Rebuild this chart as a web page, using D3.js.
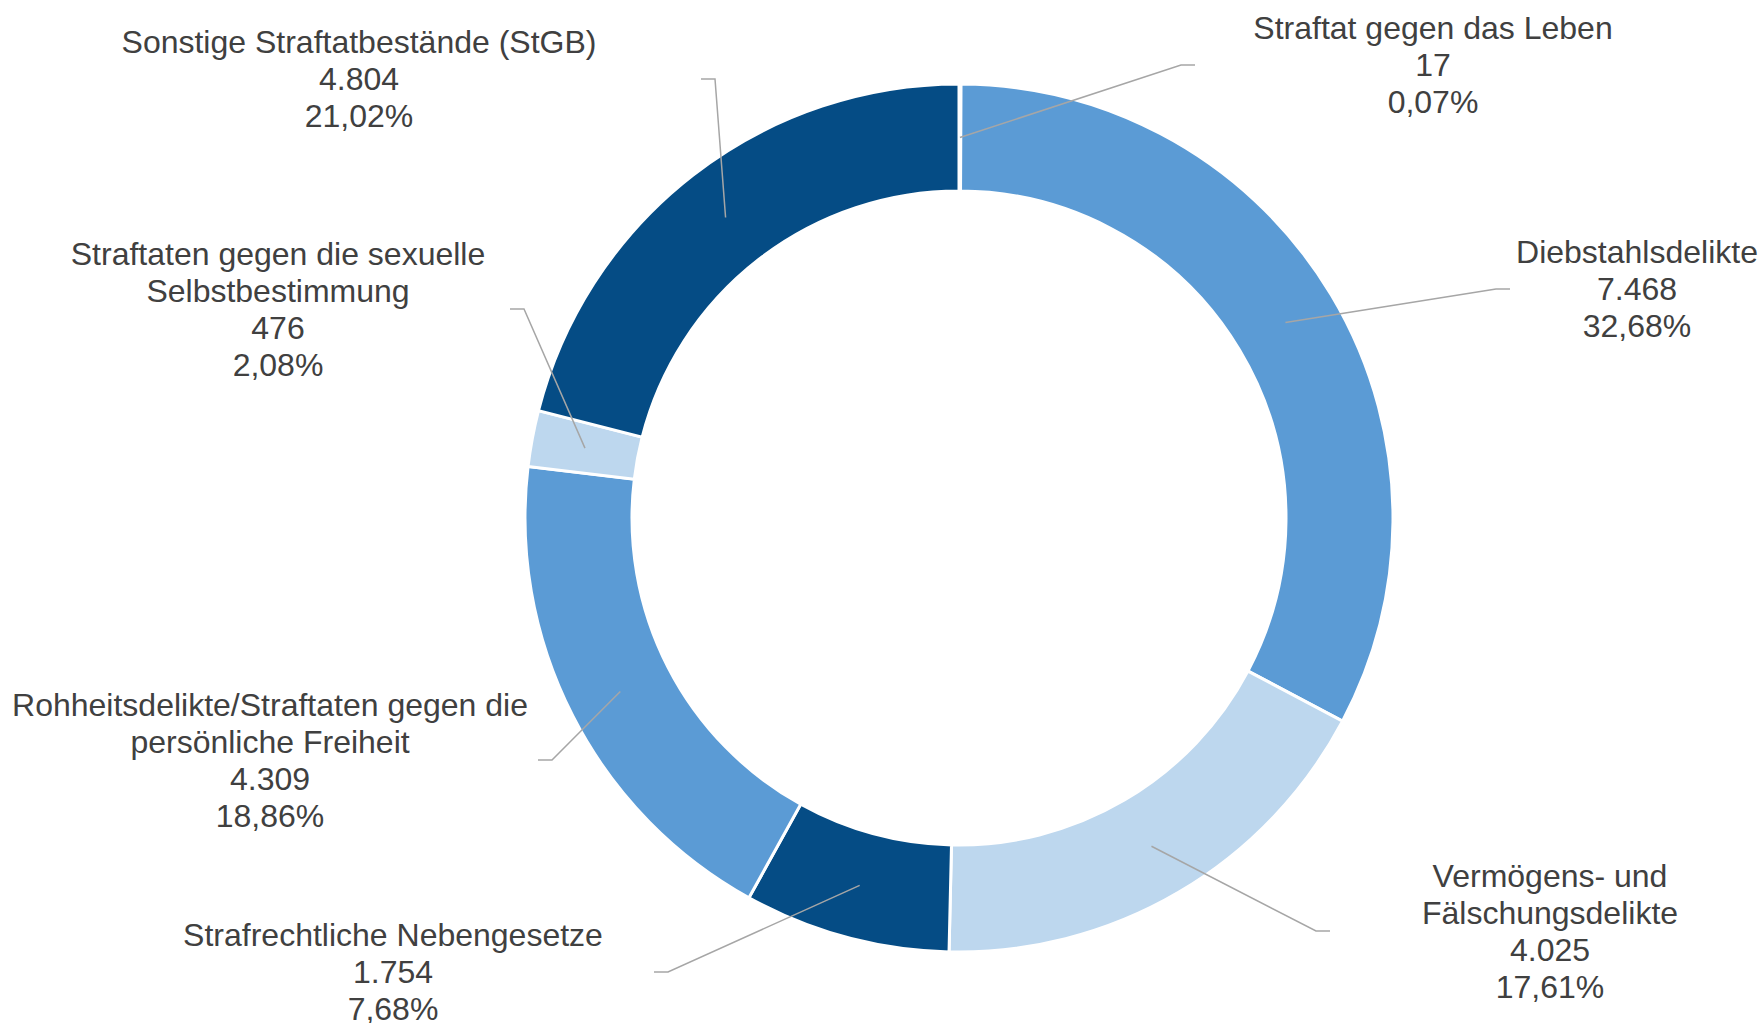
<!DOCTYPE html>
<html>
<head>
<meta charset="utf-8">
<script src="https://cdn.jsdelivr.net/npm/d3@7"></script>
<style>
  body { margin: 0; background: #fff; }
  text { font-family: "Liberation Sans", Arial, sans-serif; fill: #404040; }
</style>
</head>
<body>
<div id="chart"></div>
<script>
var width = 1764;
var height = 1023;

// data
var categories = [
    ["Straftat gegen das Leben"],
    ["Diebstahlsdelikte"],
    ["Vermögens- und", "Fälschungsdelikte"],
    ["Strafrechtliche Nebengesetze"],
    ["Rohheitsdelikte/Straftaten gegen die", "persönliche Freiheit"],
    ["Straftaten gegen die sexuelle", "Selbstbestimmung"],
    ["Sonstige Straftatbestände (StGB)"]
];
var values = [17, 7468, 4025, 1754, 4309, 476, 4804];
var colors = ["#054C85", "#5B9BD5", "#BDD7EE", "#054C85", "#5B9BD5", "#BDD7EE", "#054C85"];

// label layout (hand placed like in the original)
var labelX = [1433, 1637, 1550, 393, 270, 278, 359];
var labelY = [65, 289, 931, 972, 760, 309, 79];
var leaderEndX = [1195, 1510, 1330, 654, 538, 510, 701];

var cx = 959, cy = 518;
var outerR = 434, innerR = 327;
var lineH = 37;

var de = d3.formatLocale({ decimal: ",", thousands: ".", grouping: [3], currency: ["", "€"] });
var fmtNum = de.format(",d");
var fmtPct = de.format(".2%");

var total = d3.sum(values);

var svg = d3.select("#chart")
    .append("svg")
    .attr("width", width)
    .attr("height", height);

var pie = d3.pie().sort(null).value(function(d) { return d; });
var arc = d3.arc().innerRadius(innerR).outerRadius(outerR);
var arcs = pie(values);

var ring = svg.append("g")
    .attr("transform", "translate(" + cx + "," + cy + ")");

ring.selectAll(".slice")
    .data(arcs)
    .enter().append("path")
    .attr("class", "slice")
    .attr("d", arc)
    .attr("fill", function(d, i) { return colors[i]; })
    .attr("stroke", "#fff")
    .attr("stroke-width", 3)
    .attr("stroke-linejoin", "miter");

// leader lines
svg.selectAll(".leader")
    .data(arcs)
    .enter().append("polyline")
    .attr("class", "leader")
    .attr("points", function(d, i) {
        var c = arc.centroid(d);
        var dir = labelX[i] > cx ? 1 : -1;
        var ex = leaderEndX[i], ey = labelY[i];
        return [[c[0] + cx, c[1] + cy], [ex - dir * 14, ey], [ex, ey]].join(" ");
    })
    .attr("fill", "none")
    .attr("stroke", "#A6A6A6")
    .attr("stroke-width", 1.5);

// labels
var labels = svg.selectAll(".label")
    .data(arcs)
    .enter().append("text")
    .attr("class", "label")
    .attr("text-anchor", "middle")
    .style("font-size", "32px");

labels.each(function(d, i) {
    var lines = categories[i].concat([fmtNum(values[i]), fmtPct(values[i] / total)]);
    var top = labelY[i] - (lines.length - 1) * lineH / 2;
    d3.select(this).selectAll("tspan")
        .data(lines)
        .enter().append("tspan")
        .attr("x", labelX[i])
        .attr("y", function(t, j) { return top + j * lineH; })
        .attr("dominant-baseline", "central")
        .text(function(t) { return t; });
});
</script>
</body>
</html>
